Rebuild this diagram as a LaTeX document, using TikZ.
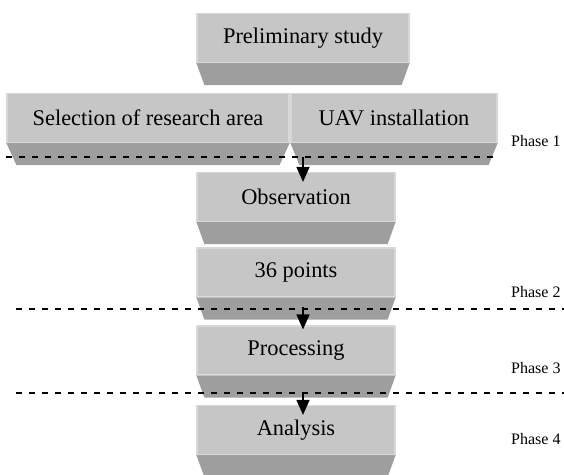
\documentclass[tikz,border=0pt]{standalone}
\usepackage{fontspec}
\setmainfont{Liberation Serif}
\usepackage{tikz}
\usetikzlibrary{arrows.meta,calc,positioning}
\definecolor{boxface}{HTML}{C6C6C6}
\definecolor{boxskirt}{HTML}{9E9E9E}
\definecolor{boxedge}{HTML}{D8D8D8}

\tikzset{
  stepbox/.style={fill=boxface, draw=boxedge, line width=1.2pt, inner sep=0pt, minimum height=49pt, font=\fontsize{22.4}{26}\selectfont},
  skirt/.style={fill=boxskirt},
  phaseline/.style={line width=1.4pt, dash pattern=on 6pt off 7pt},
  phaselabel/.style={anchor=west, inner sep=0pt, font=\fontsize{16}{19}\selectfont},
  flow/.style={line width=1.3pt, -{Triangle[width=13pt,length=15pt]}},
}
\newcommand{\skirtbelow}[2]{\fill[skirt] (#1.south west) -- (#1.south east) -- ++(-#2,22) -- ($(#1.south west)+(#2,22)$) -- cycle;}

\begin{document}
\begin{tikzpicture}[x=1pt,y=-1pt]
\useasboundingbox (0,0) rectangle (564,474);
\node[stepbox, minimum width=212pt] (prelim) at (303,38) {Preliminary study};
\skirtbelow{prelim}{8}
\node[stepbox, minimum width=282pt] (area) at (148,118) {Selection of research area};
\skirtbelow{area}{10}
\node[stepbox, minimum width=206pt] (uav) at (394,118) {UAV installation};
\skirtbelow{uav}{9}
\node[stepbox, minimum width=198pt] (obs) at (296,197) {Observation};
\skirtbelow{obs}{8}
\node[stepbox, minimum width=198pt] (pts) at (296,272.5) {36 points};
\skirtbelow{pts}{8}
\node[stepbox, minimum width=198pt] (proc) at (296,350.5) {Processing};
\skirtbelow{proc}{8}
\node[stepbox, minimum width=198pt] (ana) at (296,430) {Analysis};
\skirtbelow{ana}{8}

\coordinate (d1) at (303,157);
\coordinate (d2) at (303,307);
\coordinate (d3) at (303,392);
\draw[phaseline] (area.west |- d1) -- (uav.east |- d1);
\draw[phaseline] (16,309) -- (564,309);
\draw[phaseline] (16,393) -- (564,393);
\draw[flow] (d1) -- ([yshift=-10pt]obs.north -| d1);
\draw[flow] (d2) -- ([yshift=-4pt]proc.north -| d2);
\draw[flow] (d3) -- ([yshift=-10pt]ana.north -| d3);

\node[phaselabel] (ph1) at (511,141) {Phase 1};
\node[phaselabel] (ph2) at (511,292) {Phase 2};
\node[phaselabel] (ph3) at (511,368) {Phase 3};
\node[phaselabel] (ph4) at (511,439) {Phase 4};
\end{tikzpicture}
\end{document}
